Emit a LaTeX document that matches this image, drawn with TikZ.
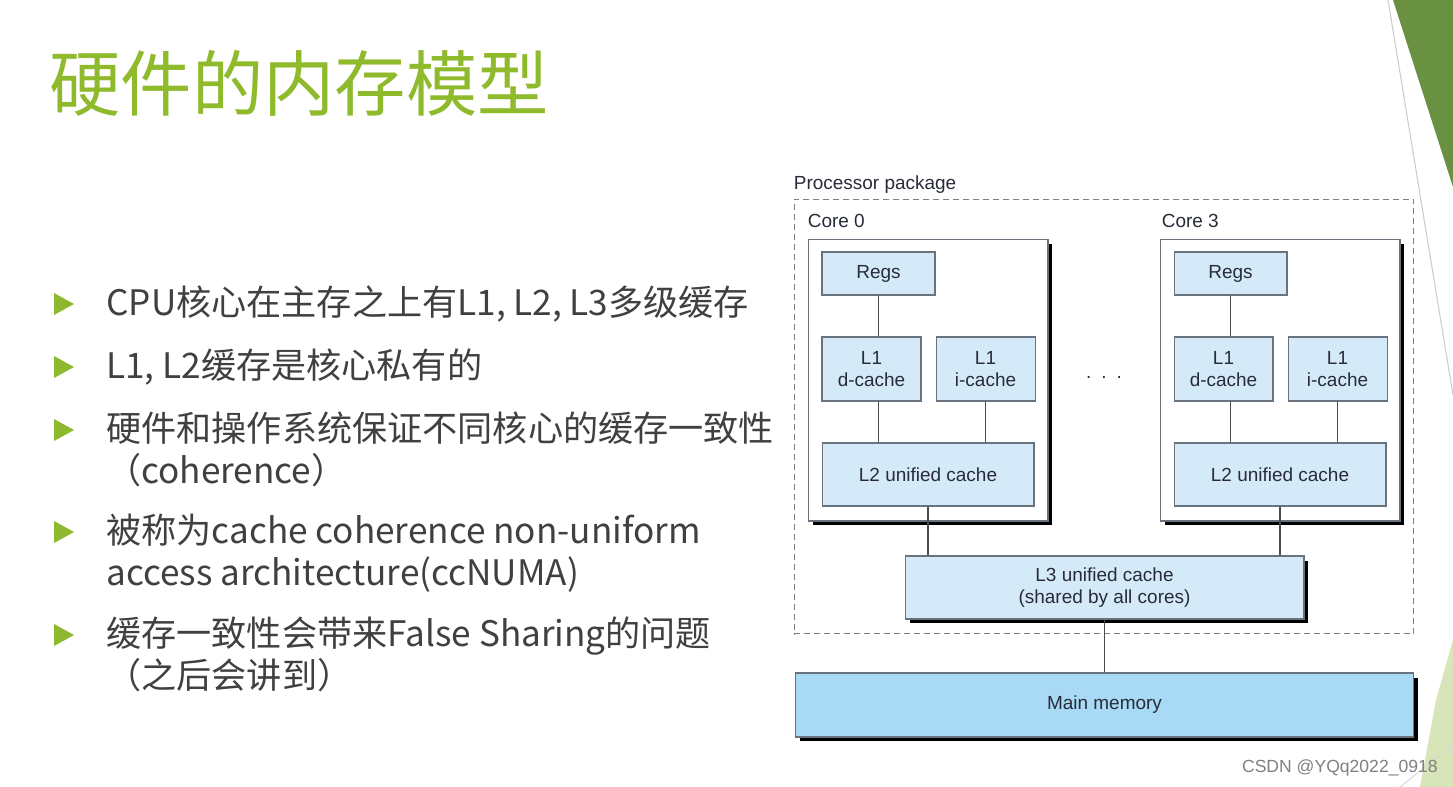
\documentclass[tikz,border=0pt]{standalone}
\usepackage{fontspec}
\setmainfont{Liberation Sans}
\newfontfamily\cjk{Noto Sans CJK SC}
\usetikzlibrary{positioning, shadows}

\definecolor{titlegreen}{RGB}{142,186,44}
\definecolor{bulletgreen}{RGB}{141,185,46}
\definecolor{cornergreen}{RGB}{106,145,66}
\definecolor{palegreen}{RGB}{216,229,184}
\definecolor{slidetext}{RGB}{64,64,64}
\definecolor{cacheblue}{RGB}{213,234,249}
\definecolor{memblue}{RGB}{168,218,245}
\definecolor{boxgray}{RGB}{105,115,125}
\definecolor{diagtext}{RGB}{40,44,56}

\begin{document}
\begin{tikzpicture}[x=0.02cm, y=-0.02cm]
    \tikzstyle{cachebox}=[draw=boxgray, fill=cacheblue, line width=0.6pt, inner sep=0, align=center, text=diagtext, font=\fontsize{10.8}{12.4}\selectfont, rectangle]
    \tikzstyle{corebox}=[draw=boxgray, fill=white, line width=0.6pt, minimum width=4.8cm, minimum height=5.64cm, rectangle, drop shadow={shadow xshift=0.09cm, shadow yshift=-0.09cm, opacity=1, fill=black}]
    \tikzstyle{shadowbox}=[cachebox, drop shadow={shadow xshift=0.09cm, shadow yshift=-0.09cm, opacity=1, fill=black}]
    \tikzstyle{diaglabel}=[inner sep=0, text=diagtext, font=\fontsize{10.8}{12.4}\selectfont]
    \tikzstyle{bus}=[draw=black!70, line width=0.6pt]
    \tikzstyle{itemtext}=[inner sep=0, align=left, text=slidetext, font=\cjk\fontsize{20}{23.8}\selectfont]

    % Slide background
    \fill[white] (0,0) rectangle (1453,787);
    \useasboundingbox (0,0) rectangle (1453,787);
    \fill[cornergreen] (1393,0) -- (1453,0) -- (1453,187) -- cycle;
    \draw[black!20, line width=0.6pt] (1388,0) -- (1453,395);
    \fill[palegreen] (1453,640) -- (1436,700) -- (1420,787) -- (1453,787) -- cycle;
    \draw[black!15, line width=0.6pt] (1400,787) -- (1453,745);

    % Title
    \node[inner sep=0, anchor=base west, text=titlegreen, font=\cjk\fontsize{40.6}{44}\selectfont] (title) at (49,111) {硬件的内存模型};

    % Bullets
    \fill[bulletgreen] (54,293) -- (74,304) -- (54,315) -- cycle;
    \fill[bulletgreen] (54,356) -- (74,367) -- (54,378) -- cycle;
    \fill[bulletgreen] (54,419) -- (74,430) -- (54,441) -- cycle;
    \fill[bulletgreen] (54,521) -- (74,532) -- (54,543) -- cycle;
    \fill[bulletgreen] (54,624) -- (74,635) -- (54,646) -- cycle;

    % (base of a two line node sits on its last line)
    \node[itemtext, anchor=base west] (item1) at (106,315) {CPU核心在主存之上有L1, L2, L3多级缓存};
    \node[itemtext, anchor=base west] (item2) at (106,378) {L1, L2缓存是核心私有的};
    \node[itemtext, anchor=base west] (item3) at (106,483) {硬件和操作系统保证不同核心的缓存一致性\\（coherence）};
    \node[itemtext, anchor=base west] (item4) at (106,585) {被称为cache coherence non-uniform\\access architecture(ccNUMA)};
    \node[itemtext, anchor=base west] (item5) at (106,688) {缓存一致性会带来False Sharing的问题\\（之后会讲到）};

    % Processor package
    \node[draw=black!50, dash pattern=on 0.12cm off 0.08cm, line width=0.6pt, minimum width=12.4cm, minimum height=8.7cm, rectangle] (pkg) at (1104,416.5) {};
    \node[diaglabel, anchor=base west] (pkg_label) at ([yshift=0.18cm]pkg.north west) {Processor package};

    % Core 0
    \node[corebox] (c0_box) at (928,380) {};
    \node[diaglabel, above=0.2cm of c0_box.north west, anchor=south west] (c0_label) {Core 0};
    \node[cachebox, minimum width=2.26cm, minimum height=0.86cm] (c0_regs) at (878.5,273.5) {Regs};
    \node[cachebox, minimum width=1.98cm, minimum height=1.28cm] (c0_l1d) at (871.5,369) {L1\\d-cache};
    \node[cachebox, minimum width=1.98cm, minimum height=1.28cm, right=0.28cm of c0_l1d] (c0_l1i) {L1\\i-cache};
    \node[cachebox, minimum width=4.24cm, minimum height=1.26cm] (c0_l2) at (928,474.5) {L2 unified cache};

    % Core 3
    \node[corebox] (c3_box) at (1280,380) {};
    \node[diaglabel, above=0.2cm of c3_box.north west, anchor=south west, xshift=0.04cm] (c3_label) {Core 3};
    \node[cachebox, minimum width=2.26cm, minimum height=0.86cm] (c3_regs) at (1230.5,273.5) {Regs};
    \node[cachebox, minimum width=1.98cm, minimum height=1.28cm] (c3_l1d) at (1223.5,369) {L1\\d-cache};
    \node[cachebox, minimum width=1.98cm, minimum height=1.28cm, right=0.28cm of c3_l1d] (c3_l1i) {L1\\i-cache};
    \node[cachebox, minimum width=4.24cm, minimum height=1.26cm] (c3_l2) at (1280,474.5) {L2 unified cache};

    \node[diaglabel] (dots) at (1104,377) {.\hspace{0.2cm}.\hspace{0.2cm}.};

    % Shared levels
    \node[shadowbox, minimum width=7.98cm, minimum height=1.26cm] (l3) at (1104.5,587.5) {L3 unified cache\\(shared by all cores)};
    \node[shadowbox, fill=memblue, minimum width=12.38cm, minimum height=1.28cm] (mainmem) at (1104.5,705) {Main memory};

    \draw[bus] (c0_regs.south) -- (c0_regs.south |- c0_l1d.north);
    \draw[bus] (c0_regs.south |- c0_l1d.south) -- (c0_regs.south |- c0_l2.north);
    \draw[bus] (c0_l1i.south) -- (c0_l1i.south |- c0_l2.north);
    \draw[bus] (c0_l2.south) -- (c0_l2.south |- l3.north);

    \draw[bus] (c3_regs.south) -- (c3_regs.south |- c3_l1d.north);
    \draw[bus] (c3_regs.south |- c3_l1d.south) -- (c3_regs.south |- c3_l2.north);
    \draw[bus] (c3_l1i.south) -- (c3_l1i.south |- c3_l2.north);
    \draw[bus] (c3_l2.south) -- (c3_l2.south |- l3.north);

    \draw[bus] (l3.south) -- (mainmem.north);

    % Watermark
    \node[anchor=east, inner sep=0, text=black!50, font=\fontsize{10}{12}\selectfont] (mark) at (1438,768) {CSDN @YQq2022\_0918};
\end{tikzpicture}
\end{document}
